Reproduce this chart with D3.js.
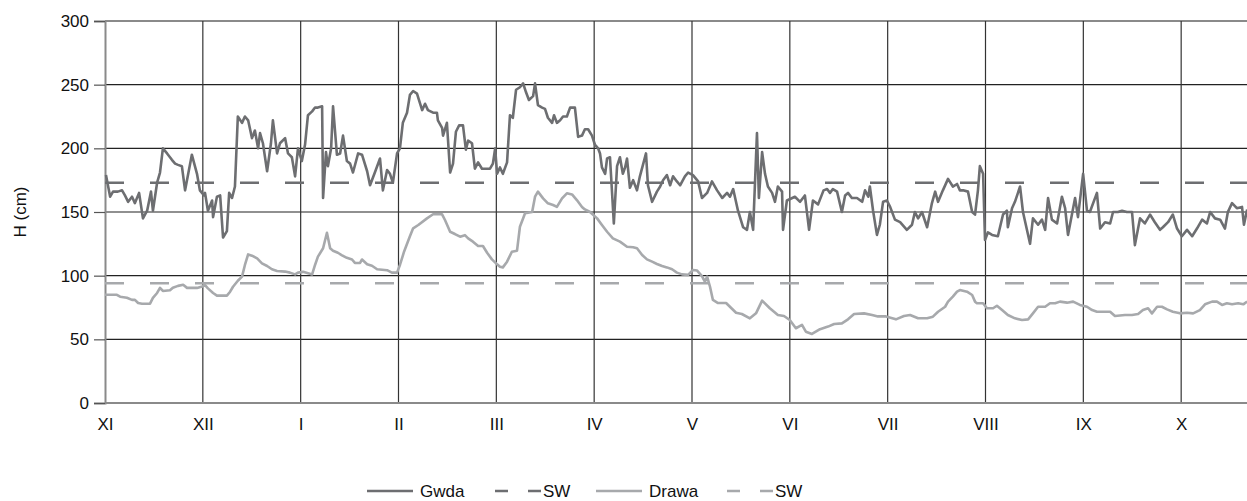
<!DOCTYPE html>
<html>
<head>
<meta charset="utf-8">
<script src="https://cdn.jsdelivr.net/npm/d3@7"></script>
<style>
  html, body { margin: 0; padding: 0; background: #fff; overflow: hidden; }
  svg { display: block; font-family: "Liberation Sans", Arial, sans-serif; }
</style>
</head>
<body>
<svg id="chart" width="1247" height="501"></svg>
<script>
// month labels (hydrological year, XI..X)
const months = ["XI", "XII", "I", "II", "III", "IV", "V", "VI", "VII", "VIII", "IX", "X"];
const yTicks = [0, 50, 100, 150, 200, 250, 300];

// Gwda - day of hydrological year / water level H (cm)
const gwdaDay = [0.3, 1.6, 2.5, 4, 5.3, 6.2, 7.2, 8.4, 9.3, 10.6, 11.8, 13.1, 14.3, 14.9, 16.2, 17.1, 18, 19.3, 20.8, 21.8,
  22.7, 23.9, 24.9, 27, 28.6, 29.5, 30.8, 31.1, 32, 33.3, 33.6, 34.8, 35.8, 36.7, 37.9, 38.6, 39.5, 40.4, 41.3, 42.6,
  43.5, 44.5, 45.7, 46.6, 47.6, 48.2, 49.1, 50.4, 51.6, 52.2, 53.5, 54.4, 56, 56.9, 58.1, 59.1, 60, 61.2, 62.2, 63.1,
  64.4, 65.3, 66.2, 67.5, 67.8, 68.7, 69.3, 70.3, 70.9, 72.1, 73.1, 74, 75.2, 76.2, 77.1, 78.7, 79.9, 81.5, 82.4, 83.9,
  85.5, 86.4, 87.7, 88.6, 89.5, 90.8, 91.7, 92.6, 93.9, 94.8, 95.8, 97, 98.6, 99.5, 100.4, 102, 103.2, 103.5, 104.8, 105.1,
  106.3, 107.3, 108.2, 109.1, 110.1, 111.3, 112.2, 112.9, 114.1, 115, 116, 117.2, 118.1, 119.7, 120.6, 121.3, 121.9, 122.8, 123.7, 125,
  125.9, 126.8, 127.8, 129, 130, 130.9, 131.8, 133.1, 133.7, 134.6, 135.9, 136.8, 137.7, 139, 139.6, 140.5, 141.5, 142.4, 143.6, 144.6,
  146.1, 147.1, 148.3, 149.2, 150.2, 151.4, 152.3, 153.3, 153.9, 154.5, 155.5, 156.1, 157, 158.2, 159.2, 160.1, 161, 161.7, 162.3, 163.2,
  164.2, 165.4, 166.3, 168.2, 168.8, 170.1, 171.6, 172.6, 173.5, 174.7, 175.7, 176.6, 177.8, 178.8, 180.3, 181.3, 182.8, 184.4, 185.6, 187.2,
  188.7, 190.3, 191.9, 193.4, 194.3, 195.3, 196.8, 198.4, 199.6, 200.5, 201.5, 202.7, 203.3, 204.3, 205.2, 206.1, 207.4, 208.3, 209.2, 210.5,
  210.8, 212, 214.5, 216.1, 217.6, 218.9, 220.1, 221.7, 223.4, 224.5, 225.4, 226.3, 227.6, 229.1, 230.1, 231, 232.2, 233.8, 235.4, 236.3,
  237.3, 237.8, 238.8, 240, 240.9, 241.9, 243.1, 244.1, 245.6, 247.2, 249.3, 250.9, 251.8, 252.8, 254, 255.6, 257.1, 258.1, 259, 260.5,
  262.1, 263.6, 264.9, 265.8, 266.8, 268.3, 269.6, 270.5, 271.4, 272, 273, 273.6, 274.5, 275.8, 277.6, 279.2, 280.4, 280.7, 282, 282.9,
  284.5, 285.4, 287.6, 288.5, 290.1, 291.3, 292.3, 293.2, 294.4, 296, 297.5, 298.5, 299.4, 301.6, 302.5, 304.1, 305.3, 306.2, 308.4, 309.4,
  310.9, 312.5, 313.4, 314.9, 316.2, 317.7, 319.3, 320.2, 321.8, 323.3, 324.9, 326.4, 328, 328.9, 330.5, 332, 333.3, 334.8, 336.4, 338,
  339.5, 341.1, 342.6, 343.6, 345.1, 346.7, 348.2, 349.1, 350.4, 351.9, 353.5, 354.1, 355.1];
const gwdaH = [179, 162, 166, 166, 167, 163, 158, 162, 157, 165, 145, 151, 166, 151, 173, 181, 200, 196, 191, 188,
  187, 186, 167, 195, 180, 167, 163, 165, 151, 159, 146, 162, 163, 130, 135, 165, 161, 170, 225, 220,
  225, 222, 208, 214, 200, 212, 204, 182, 204, 222, 196, 204, 208, 196, 193, 178, 200, 190, 203, 226,
  229, 232, 232, 233, 161, 197, 186, 200, 233, 195, 196, 210, 190, 188, 181, 196, 195, 182, 171, 181,
  192, 167, 183, 180, 173, 196, 200, 220, 228, 242, 245, 243, 230, 235, 230, 228, 228, 222, 216, 210,
  220, 181, 188, 213, 218, 218, 199, 206, 204, 184, 189, 184, 184, 184, 188, 200, 180, 185, 180, 189,
  226, 224, 246, 248, 251, 244, 238, 241, 251, 234, 232, 231, 224, 220, 226, 220, 222, 225, 225, 232,
  232, 209, 210, 215, 215, 210, 203, 200, 196, 185, 180, 192, 193, 141, 186, 193, 180, 185, 192, 169,
  175, 167, 178, 196, 171, 158, 166, 170, 175, 179, 171, 178, 174, 171, 178, 181, 179, 174, 161, 165,
  174, 167, 161, 165, 162, 168, 151, 138, 136, 150, 136, 212, 161, 197, 180, 170, 165, 158, 170, 166,
  136, 159, 162, 158, 163, 136, 159, 156, 167, 168, 165, 168, 166, 150, 163, 165, 161, 161, 158, 167,
  162, 170, 151, 132, 140, 158, 159, 154, 144, 142, 136, 140, 150, 145, 150, 138, 157, 166, 158, 167,
  176, 170, 172, 167, 167, 166, 150, 148, 167, 186, 180, 128, 134, 132, 131, 148, 151, 138, 153, 158,
  170, 150, 125, 145, 140, 144, 136, 161, 144, 141, 162, 153, 132, 161, 146, 180, 151, 150, 165, 137,
  142, 141, 150, 150, 151, 150, 150, 124, 145, 141, 148, 142, 136, 138, 142, 148, 137, 131, 136, 131,
  137, 144, 141, 150, 145, 144, 137, 150, 157, 153, 154, 140, 152];

// Drawa - day / water level H (cm)
const drawaDay = [0, 3.7, 4.7, 6.8, 8.4, 9.3, 10.3, 11.5, 14, 14.9, 16.2, 17.1, 18, 20.2, 21.1, 22.7, 24.3, 25.5, 28.6, 30.2,
  31.1, 32, 33.6, 34.8, 37.9, 38.9, 39.8, 41.3, 42.6, 43.5, 44.5, 45.7, 47.3, 48.8, 50.4, 51.9, 53.5, 56, 57.5, 59.1,
  60, 61.6, 64.4, 65.3, 66.2, 67.8, 69, 70, 70.9, 72.4, 73.7, 75.2, 76.8, 77.7, 79.3, 79.9, 81.5, 83, 84.6, 87.7,
  89.2, 90.8, 91.7, 93, 94.8, 95.8, 97.4, 100.1, 102, 104.8, 105.7, 107.3, 108.8, 110.4, 111.9, 112.9, 114.4, 116, 117.5, 118.8,
  120.3, 121.9, 122.8, 123.7, 125, 126.5, 128.1, 129, 130.6, 132.8, 133.7, 134.6, 136.2, 137.7, 139.3, 140.5, 142.1, 143.6, 145.2, 146.7,
  148.3, 149.2, 150.8, 153, 154.5, 156.1, 157.9, 160.1, 162.3, 164.2, 165.4, 167, 168.5, 170.1, 171.6, 173.2, 174.7, 176.3, 177.8, 179.4,
  181.3, 182.8, 184.1, 185.6, 186.5, 187.2, 188.1, 189, 190.6, 193.1, 196.2, 198, 200.5, 202.4, 204.3, 206.7, 209.2, 211.1, 212.9, 214.8,
  216.7, 217.9, 219.8, 222.3, 224.8, 226.7, 229.1, 231, 232.9, 236, 238.5, 240.3, 242.8, 245.9, 248.4, 250.3, 252.8, 255.6, 257.4, 259,
  261.2, 262.1, 263.6, 264.9, 265.8, 268, 269.6, 270.5, 271.1, 273, 274.2, 276.1, 277.3, 278.9, 280.7, 282.9, 285.1, 287, 288.5, 290.1,
  292.3, 293.8, 295.4, 296.9, 299.1, 301, 303.1, 305.3, 306.9, 308.4, 312.5, 314, 317.1, 319.3, 321.2, 322.7, 324.3, 325.5, 327.1, 328.6,
  330.2, 332, 334.2, 336.4, 338.3, 340.4, 342, 344.2, 345.7, 347.3, 348.8, 350.4, 352.3, 353.9, 355.1];
const drawaH = [85, 85, 83.5, 82.7, 81, 81, 78.5, 78, 78, 82.5, 86.4, 90.5, 88, 88.5, 90.5, 92, 92.8, 90.4, 90.4, 91.5,
  92.5, 90, 86.4, 84.3, 84.3, 87.4, 91.3, 96, 99.2, 108.4, 116.7, 115.7, 113.6, 109.7, 107.6, 105, 103.7, 103.2, 102.4, 101,
  102.4, 103, 101, 108.4, 114.9, 121.5, 133.7, 121.5, 119.6, 118, 116, 114, 112.7, 110, 110, 112.7, 109, 107.8, 105, 104.3,
  102.4, 102.4, 108.4, 119, 131, 137.2, 139.8, 145, 148.2, 148.2, 143.7, 134.5, 132.7, 130.6, 131.8, 129.3, 126.7, 123.3, 123.3, 118,
  112.8, 108.9, 107, 106.5, 111, 118.8, 119.6, 138.4, 149, 150, 162, 166, 160.7, 156.8, 155.5, 154, 160.7, 164.7, 163.8, 159.4,
  154, 152, 150, 145, 139.8, 134.5, 129.3, 126.7, 122.7, 122.3, 121.5, 116.2, 112.8, 111, 109.2, 107.6, 106.5, 105, 102.4, 101,
  100.6, 104.5, 104, 99.7, 95.3, 99.2, 91.3, 80.9, 78.5, 78.5, 70.9, 69.9, 66.5, 70.4, 80.4, 74.4, 69.1, 68.3, 65.2, 58.7,
  61.3, 56, 54.2, 58, 60, 62, 62.5, 65.7, 69.9, 70.4, 69.1, 68, 68, 65.7, 68.3, 69.1, 66.5, 66.5, 67.8, 71.7,
  75.6, 79.6, 83.5, 87.4, 88.7, 87.4, 84.8, 79.6, 78.3, 78.3, 74.4, 74.4, 76.4, 73, 69.1, 66.5, 65.2, 65.7, 70.4, 75.6,
  75.6, 78.3, 78.3, 79.6, 78.8, 79.6, 77, 75.6, 73, 71.7, 71.7, 68.3, 69.1, 69.1, 69.9, 73, 74.4, 70.4, 75.6, 75.6,
  73.5, 71.7, 70.4, 70.9, 70.4, 73, 77.5, 79.6, 79.6, 77, 78.3, 77.5, 78.3, 77.5, 79.6];

// mean water levels (SW)
const swGwda = 173;
const swDrawa = 94;

const legendItems = [
  { label: "Gwda", color: "#6d6e71", dashed: false },
  { label: "SW", color: "#6d6e71", dashed: true },
  { label: "Drawa", color: "#a7a9ac", dashed: false },
  { label: "SW", color: "#a7a9ac", dashed: true }
];

const svg = d3.select("#chart");

// Scales (the right end of the year is cut by the picture edge)
const x = d3.scaleLinear().domain([0, 365]).range([105, 1279]);
const y = d3.scaleLinear().domain([0, 300]).range([403, 21]);
const monthPos = months.map((m, i) => i * 365 / 12);

// Grid
svg.append("g")
  .selectAll("line")
  .data(yTicks.slice(1))
  .enter()
  .append("line")
  .attr("x1", x(0)).attr("x2", 1247)
  .attr("y1", d => y(d)).attr("y2", d => y(d))
  .attr("stroke", d => d === 300 ? "#8a8a8a" : "#222")
  .attr("stroke-width", d => d === 300 ? 2 : 1.2);

svg.append("g")
  .selectAll("line")
  .data(monthPos.slice(1))
  .enter()
  .append("line")
  .attr("x1", d => x(d)).attr("x2", d => x(d))
  .attr("y1", y(300)).attr("y2", y(0))
  .attr("stroke", "#333")
  .attr("stroke-width", 1.2);

// Y axis
const yAxis = svg.append("g")
  .attr("transform", "translate(" + x(0) + ",0)")
  .call(d3.axisLeft(y).tickValues(yTicks).tickSize(11).tickPadding(5));
yAxis.select(".domain").attr("stroke", "#8a8a8a").attr("stroke-width", 2);
yAxis.selectAll(".tick line").attr("stroke", "#555").attr("stroke-width", 1.2);
yAxis.selectAll("text").attr("font-size", 17).attr("fill", "#111")
  .attr("font-family", "Liberation Sans, Arial, sans-serif");

// X axis
const xAxis = svg.append("g")
  .attr("transform", "translate(0," + y(0) + ")")
  .call(d3.axisBottom(x).tickValues(monthPos).tickFormat((d, i) => months[i]).tickSize(0).tickPadding(15));
xAxis.select(".domain").remove();
xAxis.selectAll("text").attr("font-size", 17).attr("fill", "#111")
  .attr("font-family", "Liberation Sans, Arial, sans-serif");
svg.append("line")
  .attr("x1", x(0)).attr("x2", 1247)
  .attr("y1", y(0)).attr("y2", y(0))
  .attr("stroke", "#8a8a8a").attr("stroke-width", 2);

// Y title
svg.append("text")
  .attr("transform", "translate(26," + ((y(0) + y(300)) / 2) + ") rotate(-90)")
  .attr("text-anchor", "middle")
  .attr("font-size", 17)
  .attr("fill", "#111")
  .text("H (cm)");

// SW lines
const swLines = [
  { v: swGwda, color: "#6d6e71" },
  { v: swDrawa, color: "#a7a9ac" }
];
svg.append("g")
  .selectAll("line")
  .data(swLines)
  .enter()
  .append("line")
  .attr("x1", x(0)).attr("x2", 1247)
  .attr("y1", d => y(d.v)).attr("y2", d => y(d.v))
  .attr("stroke", d => d.color)
  .attr("stroke-width", 2.6)
  .attr("stroke-dasharray", "19,26");

// Data lines
const line = d3.line()
  .x(d => x(d[0]))
  .y(d => y(d[1]));

const drawa = drawaDay.map((d, i) => [d, drawaH[i]]);
const gwda = gwdaDay.map((d, i) => [d, gwdaH[i]]);

svg.append("path")
  .datum(drawa)
  .attr("fill", "none")
  .attr("stroke", "#a7a9ac")
  .attr("stroke-width", 2.6)
  .attr("stroke-linejoin", "round")
  .attr("d", line);

svg.append("path")
  .datum(gwda)
  .attr("fill", "none")
  .attr("stroke", "#6d6e71")
  .attr("stroke-width", 2.6)
  .attr("stroke-linejoin", "round")
  .attr("d", line);

// Legend
const legendX = [367, 495, 596, 727];
const legend = svg.append("g");
legendItems.forEach((item, i) => {
  const g = legend.append("g").attr("transform", "translate(" + legendX[i] + ",491)");
  g.append("line")
    .attr("x1", 0).attr("x2", 46)
    .attr("y1", 0).attr("y2", 0)
    .attr("stroke", item.color)
    .attr("stroke-width", 2.6)
    .attr("stroke-dasharray", item.dashed ? "13,20" : null);
  g.append("text")
    .attr("x", item.dashed ? 48 : 53)
    .attr("y", 6)
    .attr("font-size", 17)
    .attr("fill", "#111")
    .text(item.label);
});
</script>
</body>
</html>
